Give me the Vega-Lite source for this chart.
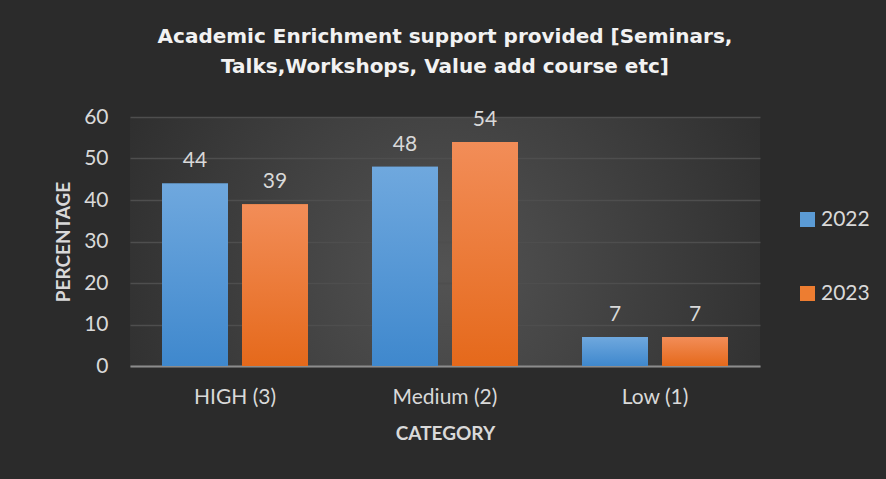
{
  "$schema": "https://vega.github.io/schema/vega-lite/v6.json",
  "width": 630,
  "height": 249,
  "autosize": {"type": "none"},
  "padding": {"left": 130, "top": 117, "right": 126, "bottom": 113},
  "background": "#2b2b2b",
  "title": {
    "text": ["Academic Enrichment support provided [Seminars,", "Talks,Workshops, Value add course etc]"],
    "font": "DejaVu Sans",
    "fontSize": 20,
    "fontWeight": "bold",
    "color": "#f2f2f2",
    "lineHeight": 30,
    "offset": 29,
    "anchor": "middle"
  },
  "data": {
    "values": [
      {"category": "HIGH (3)", "year": "2022", "value": 44},
      {"category": "HIGH (3)", "year": "2023", "value": 39},
      {"category": "Medium (2)", "year": "2022", "value": 48},
      {"category": "Medium (2)", "year": "2023", "value": 54},
      {"category": "Low (1)", "year": "2022", "value": 7},
      {"category": "Low (1)", "year": "2023", "value": 7}
    ]
  },
  "encoding": {
    "x": {
      "field": "category",
      "type": "nominal",
      "sort": ["HIGH (3)", "Medium (2)", "Low (1)"],
      "scale": {"paddingInner": 0, "paddingOuter": 0},
      "axis": {
        "title": "CATEGORY",
        "labelAngle": 0,
        "labelFont": "Lato",
        "labelFontSize": 21,
        "labelColor": "#d9d9d9",
        "labelPadding": 20,
        "ticks": false,
        "domainColor": "#8c8c8c",
        "domainWidth": 2,
        "titleFont": "Lato",
        "titleFontSize": 19,
        "titleFontWeight": "bold",
        "titleColor": "#d9d9d9",
        "titlePadding": 17
      }
    },
    "xOffset": {
      "field": "year",
      "type": "nominal",
      "scale": {"paddingInner": 0.175, "paddingOuter": 0.4}
    },
    "y": {
      "field": "value",
      "type": "quantitative",
      "scale": {"domain": [0, 60]},
      "axis": {
        "title": "PERCENTAGE",
        "values": [0, 10, 20, 30, 40, 50, 60],
        "labelFont": "Lato",
        "labelFontSize": 21,
        "labelColor": "#d9d9d9",
        "labelPadding": 22,
        "ticks": false,
        "domain": false,
        "gridColor": "#4e4e4e",
        "gridWidth": 1.5,
        "titleFont": "Lato",
        "titleFontSize": 19,
        "titleFontWeight": "bold",
        "titleColor": "#d9d9d9",
        "titlePadding": 10
      }
    }
  },
  "layer": [
    {
      "mark": {"type": "bar"},
      "encoding": {
        "color": {
          "field": "year",
          "type": "nominal",
          "scale": {"domain": ["2022", "2023"], "range": ["#5b9bd5", "#ed7d31"]},
          "legend": {
            "title": null,
            "orient": "none",
            "legendX": 667,
            "legendY": 92,
            "symbolType": "square",
            "symbolSize": 225,
            "symbolStrokeWidth": 0,
            "labelFont": "Lato",
            "labelFontSize": 21,
            "labelColor": "#d9d9d9",
            "labelOffset": 3,
            "rowPadding": 52
          }
        }
      }
    },
    {
      "mark": {"type": "bar"},
      "encoding": {
        "fill": {
          "condition": {
            "test": "datum.year == '2022'",
            "value": {"gradient": "linear", "x1": 0, "y1": 0, "x2": 0, "y2": 1, "stops": [{"offset": 0, "color": "#6fa8de"}, {"offset": 1, "color": "#3f88cd"}]}
          },
          "value": {"gradient": "linear", "x1": 0, "y1": 0, "x2": 0, "y2": 1, "stops": [{"offset": 0, "color": "#f28d58"}, {"offset": 1, "color": "#e5691b"}]}
        }
      }
    },
    {
      "mark": {"type": "text", "baseline": "alphabetic", "dy": -16, "font": "Lato", "fontSize": 21, "color": "#d9d9d9"},
      "encoding": {
        "text": {"field": "value", "type": "quantitative"}
      }
    }
  ],
  "config": {
    "view": {
      "stroke": null,
      "fill": {
        "gradient": "radial",
        "x1": 0.5, "y1": 0.55, "r1": 0,
        "x2": 0.5, "y2": 0.55, "r2": 0.62,
        "stops": [{"offset": 0, "color": "#535353"}, {"offset": 1, "color": "#2b2b2b"}]
      }
    }
  }
}
